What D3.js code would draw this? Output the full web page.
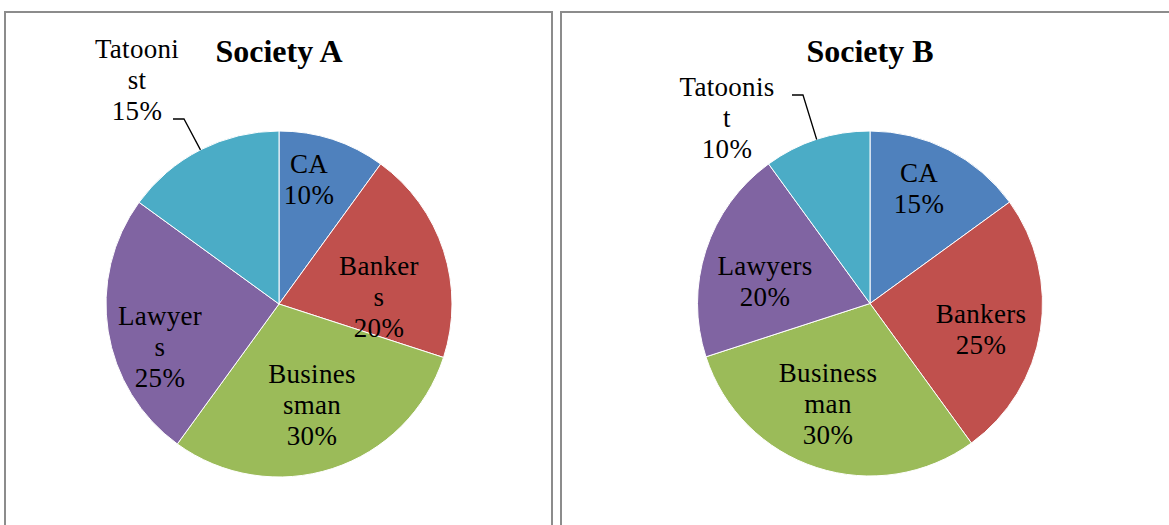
<!DOCTYPE html>
<html lang="en">
<head>
<meta charset="utf-8">
<title>Society A and Society B</title>
<script src="https://d3js.org/d3.v7.min.js"></script>
<style>
  body { margin: 0; background: #fff; }
  .panel { fill: none; stroke: #8c8c8c; stroke-width: 2; }
  .title { font-family: "Liberation Serif", serif; font-weight: bold; font-size: 32px; }
  .lbl { font-family: "Liberation Serif", serif; font-size: 27px; letter-spacing: 0.3px; fill: #000; }
  .leader { fill: none; stroke: #000; stroke-width: 1.3; }
</style>
</head>
<body>
<svg id="chart" width="1169" height="525"></svg>
<script>
// data
const categories = ["CA", "Bankers", "Businessman", "Lawyers", "Tatoonist"];
const societyA = [10, 20, 30, 25, 15];
const societyB = [15, 25, 30, 20, 10];
// label lines as wrapped in the original
const labelsA = [["CA", "10%"], ["Banker", "s", "20%"], ["Busines", "sman", "30%"], ["Lawyer", "s", "25%"], ["Tatooni", "st", "15%"]];
const labelsB = [["CA", "15%"], ["Bankers", "25%"], ["Business", "man", "30%"], ["Lawyers", "20%"], ["Tatoonis", "t", "10%"]];

const colors = ["#4f81bd", "#c0504d", "#9bbb59", "#8064a2", "#4bacc6"];

const svg = d3.select("#chart");

// panel frames (bottom is cut off in the picture)
svg.append("path").attr("class", "panel").attr("d", "M5,530 V12 H552 V530");
svg.append("path").attr("class", "panel").attr("d", "M561,530 V12 H1175");

const charts = [
  { title: "Society A", values: societyA, labels: labelsA, cx: 279, cy: 304, r: 173,
    nudge: [[30, -115.5], [100, 2], [33, 110], [-119, 51.7], [-142, -215.3]],
    leader: [[-106, -185], [-95, -185]], outside: 4 },
  { title: "Society B", values: societyB, labels: labelsB, cx: 870, cy: 303.5, r: 172.5,
    nudge: [[49, -106.5], [111, 34.5], [-42, 109], [-105, -13], [-143, -177]],
    leader: [[-78, -208.5], [-67, -208.5]], outside: 4 }
];

const lineGap = 31;

charts.forEach(c => {
  const g = svg.append("g").attr("transform", "translate(" + c.cx + "," + c.cy + ")");

  const pie = d3.pie().sort(null).value(d => d)(c.values);
  const arc = d3.arc().innerRadius(0).outerRadius(c.r);
  const edge = d3.arc().innerRadius(c.r).outerRadius(c.r);

  g.selectAll("path.slice")
    .data(pie)
    .enter()
    .append("path")
    .attr("class", "slice")
    .attr("d", arc)
    .attr("fill", (d, i) => colors[i])
    .attr("stroke", "#fff")
    .attr("stroke-width", 1);

  // title
  svg.append("text")
    .attr("class", "title")
    .attr("x", c.cx)
    .attr("y", 62)
    .attr("text-anchor", "middle")
    .text(c.title);

  // leader line for the outside label
  const p = edge.centroid(pie[c.outside]);
  g.append("path")
    .attr("class", "leader")
    .attr("d", d3.line()([c.leader[0], c.leader[1], p]));

  // data labels
  pie.forEach((d, i) => {
    const lines = c.labels[i];
    const t = g.append("text")
      .attr("class", "lbl")
      .attr("text-anchor", "middle");
    lines.forEach((ln, k) => {
      t.append("tspan")
        .attr("x", c.nudge[i][0])
        .attr("y", c.nudge[i][1] + (k - (lines.length - 1) / 2) * lineGap)
        .text(ln);
    });
  });
});
</script>
</body>
</html>
